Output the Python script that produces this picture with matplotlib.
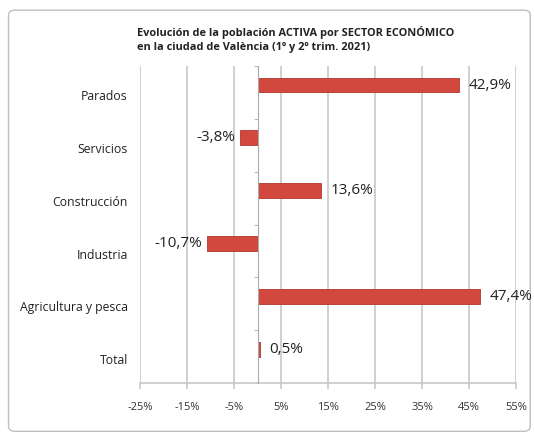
import matplotlib
matplotlib.use("Agg")
import matplotlib.pyplot as plt
from matplotlib.patches import FancyBboxPatch

categories = ["Total", "Agricultura y pesca", "Industria", "Construcción", "Servicios", "Parados"]
values = [0.5, 47.4, -10.7, 13.6, -3.8, 42.9]
xticks = [-25, -15, -5, 5, 15, 25, 35, 45, 55]
title = "Evolución de la población ACTIVA por SECTOR ECONÓMICO\nen la ciudad de València (1º y 2º trim. 2021)"

plt.rcParams["font.family"] = ["Open Sans", "DejaVu Sans"]

fig = plt.figure(figsize=(5.34, 4.41), dpi=100)
fig.patch.set_facecolor("white")
frame = FancyBboxPatch((0.016, 0.022), 0.977, 0.955, boxstyle="round,pad=0,rounding_size=0.012",
                       transform=fig.transFigure, facecolor="none", edgecolor="#bfbfbf", lw=1,
                       zorder=-1)
fig.patches.append(frame)

ax = fig.add_axes([140 / 534, 1 - 383 / 441, (516 - 140) / 534, (383 - 66) / 441])
ax.set_facecolor("none")
y = [i + 0.14 for i in range(len(categories))]
ax.barh(y, values, height=0.28, color="#d2483f", edgecolor="#b0362e", lw=0.6, zorder=3)

ax.set_xlim(-25, 55)
ax.set_ylim(-0.5, len(categories) - 0.5)
ax.set_xticks(xticks)
ax.set_xticklabels([f"{t}%" for t in xticks], fontsize=8, color="#333333")
ax.tick_params(axis="x", length=4, width=1.2, color="#c8c8c8", pad=10)
ax.grid(axis="x", color="#c8c8c8", lw=1.2, zorder=0)

ax.set_yticks([])
for i, c in enumerate(categories):
    ax.text(-25 - 2.6, i - 0.08, c, ha="right", va="center", fontsize=8.8, color="#222222")

ax.set_yticks([i - 0.5 for i in range(len(categories) + 1)], minor=True)
ax.tick_params(axis="y", which="minor", length=3, color="#aaaaaa", direction="out")
ax.spines["left"].set_position(("data", 0))
ax.spines["left"].set_color("#aaaaaa")
ax.spines["left"].set_zorder(4)
ax.spines["bottom"].set_color("#c8c8c8")
ax.spines["bottom"].set_linewidth(1.2)
for s in ["top", "right"]:
    ax.spines[s].set_visible(False)

for yy, v in zip(y, values):
    txt = f"{v:.1f}%".replace(".", ",")
    if v >= 0:
        ax.text(v + 2.0, yy, txt, ha="left", va="center", fontsize=11, color="#222222")
    else:
        ax.text(v - 1.0, yy, txt, ha="right", va="center", fontsize=11, color="#222222")

fig.text(137 / 534, 1 - 26 / 441, title, ha="left", va="top", fontsize=7.9, fontweight="bold",
         color="#222222", linespacing=1.4)

fig.savefig("out.png", dpi=100)
